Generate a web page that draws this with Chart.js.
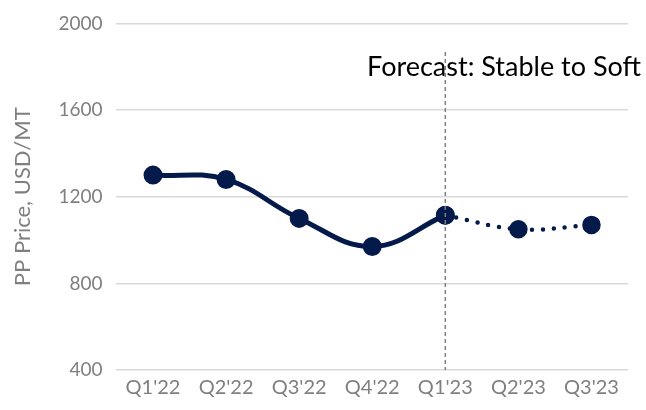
<!DOCTYPE html>
<html>
<head>
<meta charset="utf-8">
<script src="https://cdn.jsdelivr.net/npm/chart.js@4"></script>
<style>
  html, body { margin: 0; padding: 0; background: #fff; }
  #wrap { width: 646px; height: 410px; }
</style>
</head>
<body>
<div id="wrap"><canvas id="chart"></canvas></div>
<script>
const quarters = ["Q1'22", "Q2'22", "Q3'22", "Q4'22", "Q1'23", "Q2'23", "Q3'23"];
const actualPrices = [1300, 1280, 1100, 970, 1115, null, null];
const forecastPrices = [null, null, null, null, 1115, 1050, 1070];
const yTicks = [400, 800, 1200, 1600, 2000];
const forecastStart = "Q1'23";
const forecastLabel = 'Forecast: Stable to Soft';

const navy = '#041a4b';
const fontName = 'Lato, "Open Sans", sans-serif';

// dashed divider + label at the forecast start
const forecastMarker = {
    id: 'forecastMarker',
    afterDatasetsDraw(chart) {
        const ctx = chart.ctx;
        const x = chart.scales.x.getPixelForValue(quarters.indexOf(forecastStart));
        const bottom = chart.chartArea.bottom;
        ctx.save();
        ctx.strokeStyle = '#7f7f7f';
        ctx.lineWidth = 1.5;
        ctx.setLineDash([4, 3]);
        ctx.beginPath();
        ctx.moveTo(x, 52);
        ctx.lineTo(x, bottom);
        ctx.stroke();
        ctx.setLineDash([]);
        ctx.fillStyle = '#000';
        ctx.font = '27px ' + fontName;
        ctx.textAlign = 'right';
        ctx.textBaseline = 'alphabetic';
        ctx.fillText(forecastLabel, chart.width - 5, 76);
        ctx.restore();
    }
};

new Chart(document.getElementById('chart'), {
    type: 'line',
    data: {
        labels: quarters,
        datasets: [
            {
                data: actualPrices,
                borderColor: navy,
                backgroundColor: navy,
                borderWidth: 5,
                tension: 0.4,
                pointRadius: 7,
                pointHoverRadius: 7,
                spanGaps: false
            },
            {
                data: forecastPrices,
                borderColor: navy,
                backgroundColor: navy,
                borderWidth: 4.5,
                borderDash: [0, 11],
                borderCapStyle: 'round',
                tension: 0.4,
                pointRadius: 7,
                pointHoverRadius: 7
            }
        ]
    },
    options: {
        responsive: true,
        maintainAspectRatio: false,
        animation: false,
        layout: { autoPadding: false, padding: { top: 4, right: 18, left: 6, bottom: 4 } },
        plugins: {
            legend: { display: false },
            tooltip: { enabled: false }
        },
        scales: {
            x: {
                offset: true,
                grid: { display: false, drawTicks: false },
                border: { display: false },
                ticks: { color: '#7f7f7f', font: { family: fontName, size: 20 }, padding: 6 }
            },
            y: {
                min: 400,
                max: 2000,
                afterBuildTicks: (axis) => { axis.ticks = yTicks.map(v => ({ value: v })); },
                grid: { color: '#d9d9d9', lineWidth: 1.5, drawTicks: false },
                border: { display: false },
                ticks: {
                    color: '#7f7f7f',
                    font: { family: fontName, size: 19, lineHeight: 1 },
                    padding: 14,
                    callback: (v) => String(v)
                },
                title: {
                    display: true,
                    text: 'PP Price, USD/MT',
                    color: '#7f7f7f',
                    font: { family: fontName, size: 22 },
                    padding: { bottom: 8 }
                }
            }
        }
    },
    plugins: [forecastMarker]
});
</script>
</body>
</html>
